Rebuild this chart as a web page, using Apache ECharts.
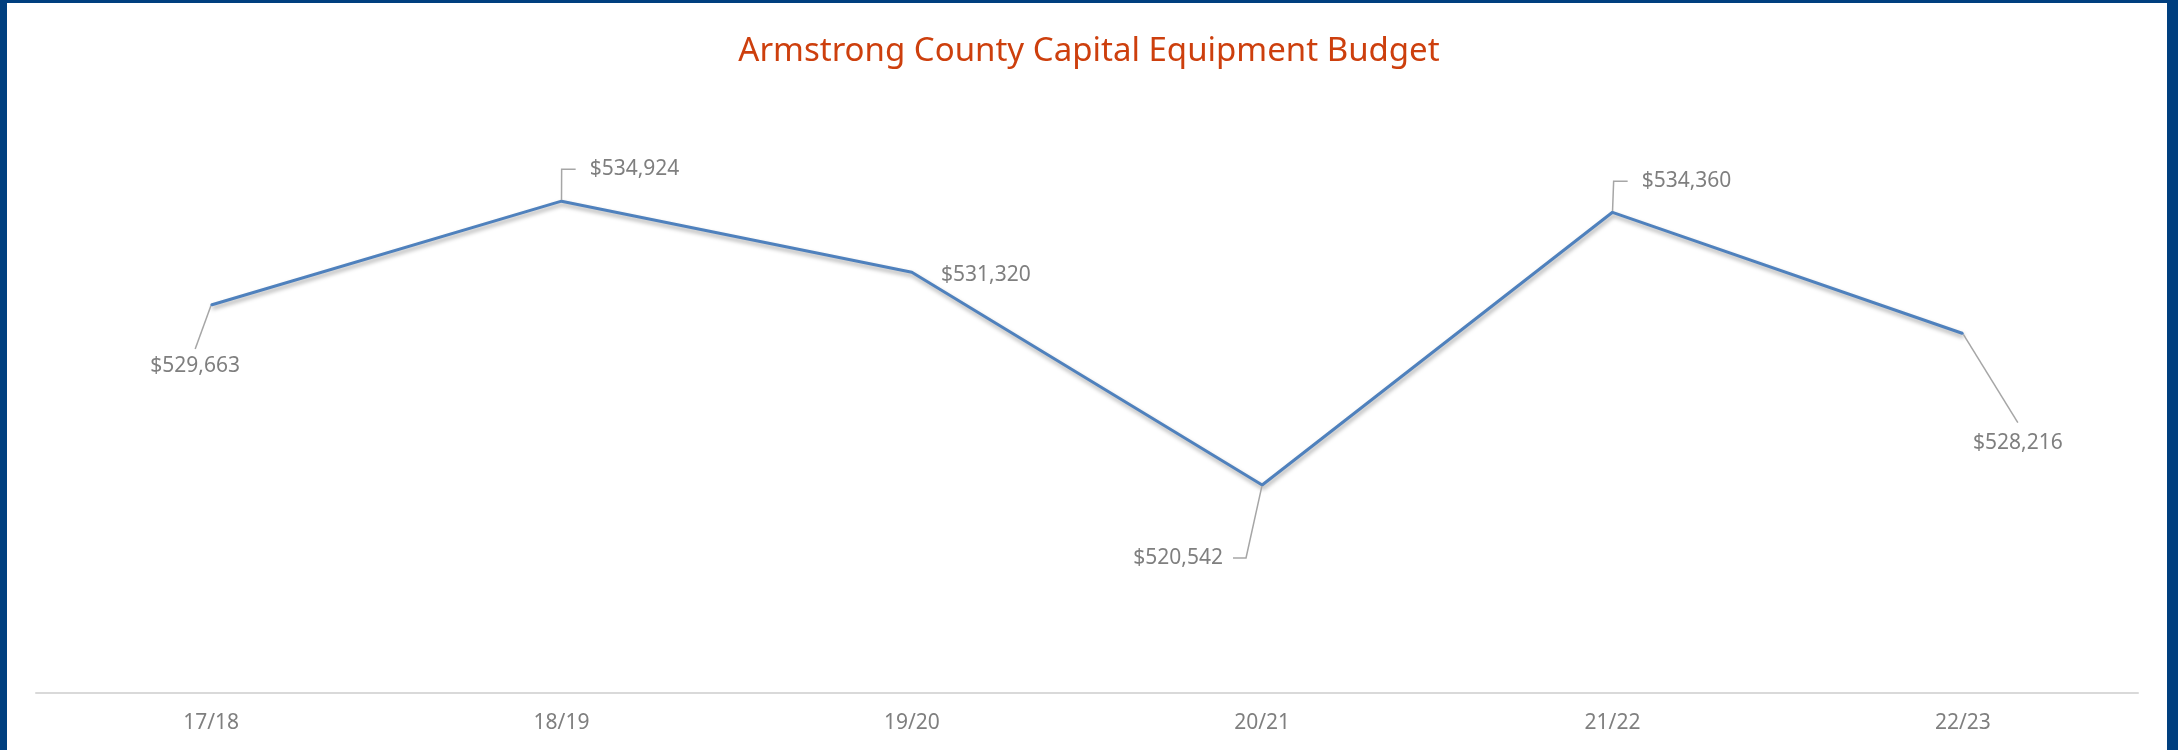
<!DOCTYPE html>
<html>
<head>
<meta charset="utf-8">
<title>Armstrong County Capital Equipment Budget</title>
<script src="https://cdn.jsdelivr.net/npm/echarts@6/dist/echarts.min.js"></script>
<style>
html,body{margin:0;padding:0;background:#fff;overflow:hidden;}
#main{position:absolute;left:0;top:0;width:2178px;height:750px;}
#frame{position:absolute;left:0;top:0;width:2178px;height:750px;box-sizing:border-box;
	border-top:3px solid #003f7f;border-left:7px solid #003f7f;border-right:11px solid #003f7f;pointer-events:none;}
</style>
</head>
<body>
<div id="main"></div>
<div id="frame"></div>
<script>
var years = ['17/18','18/19','19/20','20/21','21/22','22/23'];
var budget = [529663, 534924, 531320, 520542, 534360, 528216];

/*where each data label sits, and its leader line (like the excel chart)*/
var labelShift = [[-16,61],[66,-32],[74,3],[-79,73],[67,-31],[55,109]];
var labelPadding = [[13,0,0,0],[0,0,0,14],[0,0,0,0],[0,10,0,0],[0,0,0,14],[9,0,10,0]];
var leaderLen = [0,14,0,13,14,0];
var leaderShow = [true,true,false,true,true,true];

function money(v){
	return '$' + String(v).replace(/\B(?=(\d{3})+(?!\d))/g, ',');
}

var seriesData = [];
for(var i=0;i<budget.length;i++){
	seriesData.push({
		value: budget[i],
		label: {padding: labelPadding[i]},
		labelLine: {show: leaderShow[i], length2: leaderLen[i]}
	});
}

var myChart = echarts.init(document.getElementById('main'));
var option = {
	animation: false,
	backgroundColor: '#fff',
	title: {
		text: 'Armstrong County Capital Equipment Budget',
		left: 'center',
		top: 35,
		padding: 0,
		textStyle: {
			color: '#cd3f0d',
			fontFamily: 'Noto Sans',
			fontSize: 33,
			fontWeight: 'normal'
		}
	},
	grid: {left: 36, right: 40, top: 101, bottom: 57},
	xAxis: {
		type: 'category',
		data: years,
		boundaryGap: true,
		axisLine: {lineStyle: {color: '#d9d9d9', width: 2}},
		axisTick: {show: false},
		axisLabel: {color: '#7f7f7f', fontFamily: 'Noto Sans', fontSize: 21, margin: 20},
		splitLine: {show: false}
	},
	yAxis: {
		type: 'value',
		min: 510000,
		max: 540000,
		interval: 5000,
		show: false,
		splitLine: {show: false}
	},
	series: [
		{
			name: 'Budget',
			type: 'line',
			data: seriesData,
			symbol: 'circle',
			symbolSize: 2,
			showSymbol: true,
			itemStyle: {color: '#4f81bd'},
			lineStyle: {
				color: '#4f81bd',
				width: 3,
				shadowColor: 'rgba(0,0,0,0.35)',
				shadowBlur: 4,
				shadowOffsetX: 1,
				shadowOffsetY: 3
			},
			label: {
				show: true,
				position: 'inside',
				color: '#7f7f7f',
				backgroundColor: 'rgba(255,255,255,0)',
				fontFamily: 'Noto Sans',
				fontSize: 21,
				formatter: function(p){ return money(p.value); }
			},
			labelLayout: function(p){
				return {dx: labelShift[p.dataIndex][0], dy: labelShift[p.dataIndex][1]};
			},
			labelLine: {
				show: true,
				lineStyle: {color: '#a6a6a6', width: 1.5}
			},
			emphasis: {disabled: true}
		}
	]
};
myChart.setOption(option);
</script>
</body>
</html>
